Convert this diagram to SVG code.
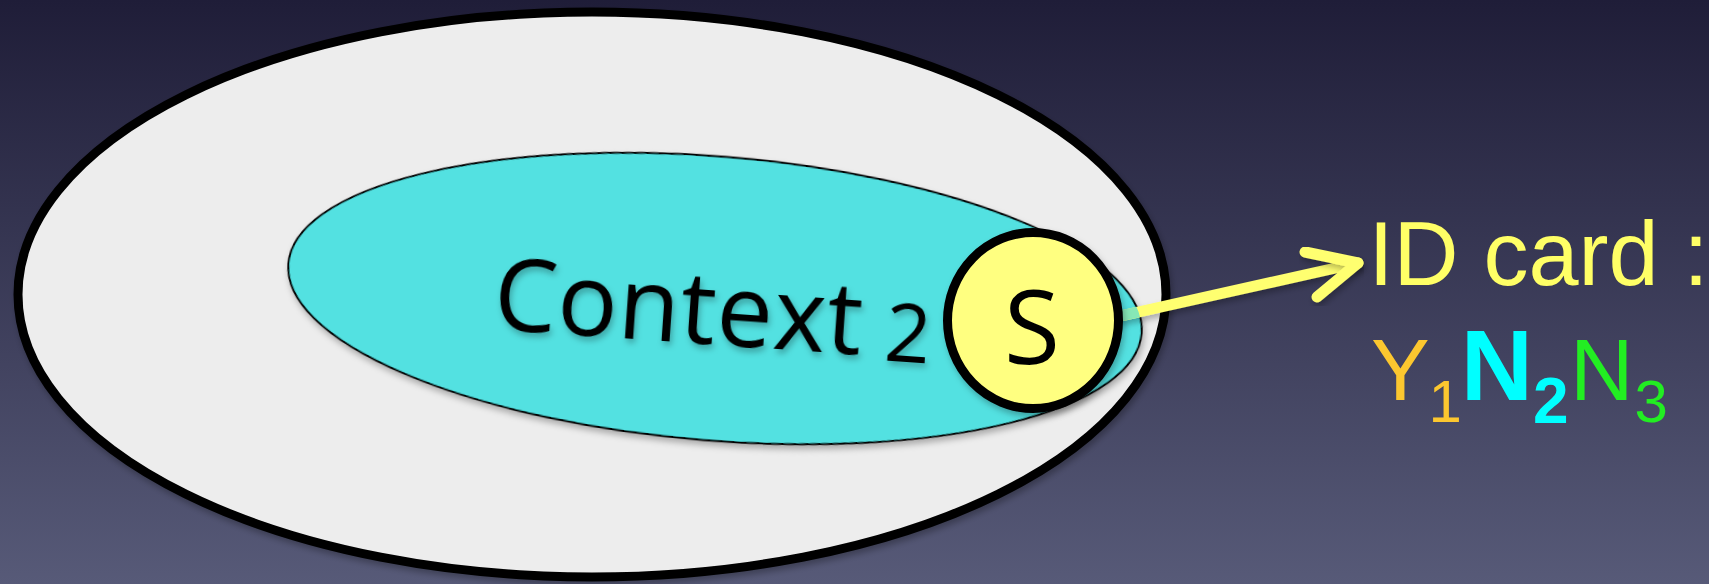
<svg xmlns="http://www.w3.org/2000/svg" width="1709" height="584" viewBox="0 0 1709 584">
  <defs>
    <linearGradient id="bg" x1="0" y1="0" x2="0" y2="1">
      <stop offset="0" stop-color="#1f1d38"/>
      <stop offset="1" stop-color="#575a78"/>
    </linearGradient>
    <filter id="shadow" x="-10%" y="-10%" width="120%" height="130%">
      <feDropShadow dx="2" dy="4" stdDeviation="3" flood-color="#000" flood-opacity="0.28"/>
    </filter>
    <clipPath id="contextClip">
      <ellipse cx="715" cy="298.5" rx="428" ry="142" transform="rotate(4.67 715 298.5)"/>
    </clipPath>
  </defs>
  <style>
    .outer { fill: #ededed; stroke: #000; stroke-width: 9; }
    .context { fill: #52e1e1; stroke: #000; stroke-width: 2; }
    .subject { fill: #ffff80; stroke: #000; stroke-width: 9; }
    .label { font-family: "Open Sans", "Noto Sans", sans-serif; fill: #000; }
    .card { font-family: "Liberation Sans", Arial, sans-serif; }
    .arrow { fill: none; stroke: #ffff70; stroke-width: 11; stroke-linecap: round; stroke-linejoin: round; }
  </style>

  <rect width="1709" height="584" fill="url(#bg)"/>

  <g id="world">
    <ellipse class="outer" cx="592" cy="294.5" rx="574" ry="282.5" filter="url(#shadow)"/>
  </g>

  <g id="context2">
    <ellipse class="context" cx="715" cy="298.5" rx="428" ry="142" transform="rotate(4.67 715 298.5)" filter="url(#shadow)"/>
    <text class="label" transform="rotate(4 492 329)" x="492" y="329" font-size="100" letter-spacing="0.8" filter="url(#shadow)">Context<tspan font-size="80" dx="1" dy="4"> 2</tspan></text>
  </g>

  <g id="connectors">
    <path id="idLink" class="arrow" d="M1040 334 L1358 263" filter="url(#shadow)"/>
    <path class="arrow" d="M1040 334 L1358 263" clip-path="url(#contextClip)" style="stroke:#86e8b6"/>
    <path class="arrow" d="M1305 252 L1358 263 L1317 297" filter="url(#shadow)"/>
  </g>

  <g id="subject">
    <ellipse class="subject" cx="1033" cy="320.5" rx="85.5" ry="88" filter="url(#shadow)"/>
    <text class="label" x="1032" y="364" font-size="102" text-anchor="middle">S</text>
  </g>

  <g id="idCard">
    <text class="card" x="1368.5" y="285" font-size="90" fill="#ffff66">ID card :</text>
    <text class="card" x="1371" y="400" font-size="88" fill="#fcc72f">Y</text>
    <text class="card" x="1428.5" y="422" font-size="60" fill="#fcc72f">1</text>
    <text class="card" x="1460.7" y="400" font-size="100" font-weight="bold" fill="#00ffff">N</text>
    <text class="card" x="1533" y="423" font-size="64" font-weight="bold" fill="#00ffff">2</text>
    <text class="card" x="1570" y="400" font-size="88" fill="#22ee22">N</text>
    <text class="card" x="1634.4" y="422" font-size="60" fill="#22ee22">3</text>
  </g>
</svg>
